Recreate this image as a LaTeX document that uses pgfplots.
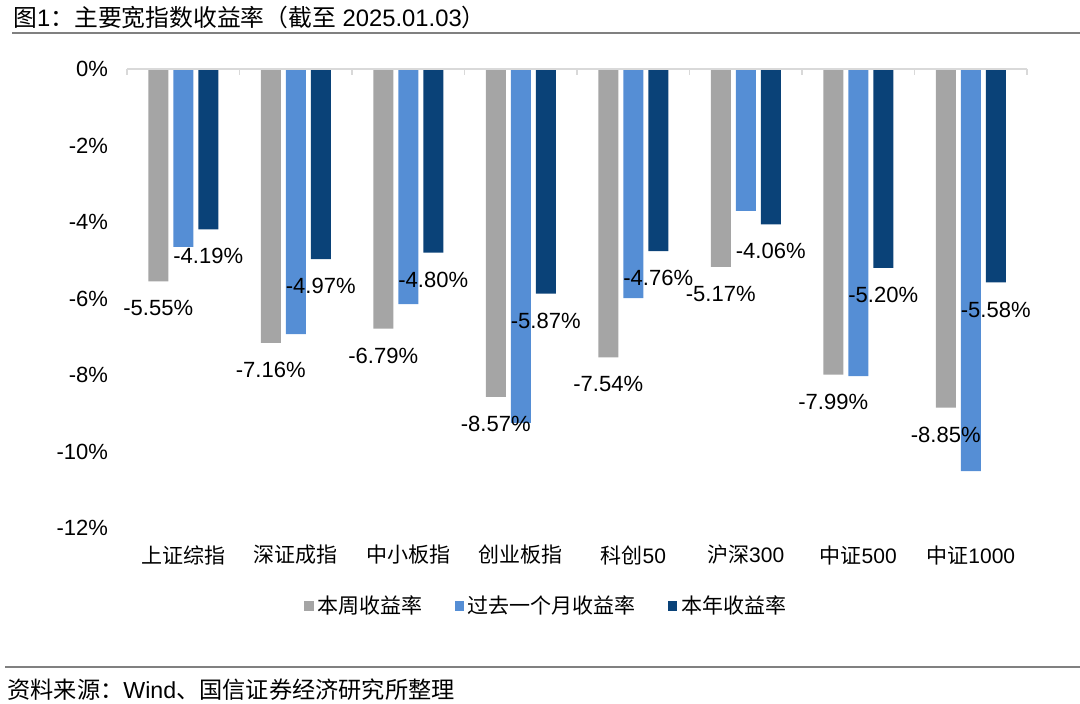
\documentclass[border=0pt]{standalone}
\usepackage{fontspec}
\setmainfont{Liberation Sans}
\newfontfamily\cjk{Noto Sans CJK SC}
\usepackage{pgfplots}
\pgfplotsset{compat=1.18}

\definecolor{barGray}{RGB}{165,165,165}
\definecolor{barLight}{RGB}{85,142,213}
\definecolor{barDark}{RGB}{10,66,120}
\definecolor{axisGray}{RGB}{217,217,217}
\definecolor{ruleGray}{RGB}{128,128,128}

\begin{document}
\begin{tikzpicture}
\path[use as bounding box] (0,0) rectangle (540pt,-351.5pt);

% title and rules
\node[anchor=west, inner sep=0pt, font=\fontsize{11.9}{14}\selectfont] at (6.5pt,-8.8pt)
  {{\cjk 图}1{\cjk ：主要宽指数收益率（截至} 2025.01.03{\cjk ）}};
\draw[ruleGray, line width=0.75pt] (6pt,-16.5pt) -- (540pt,-16.5pt);
\draw[ruleGray, line width=0.75pt] (2.5pt,-333.5pt) -- (540pt,-333.5pt);
\node[anchor=west, inner sep=0pt, font=\fontsize{11.6}{14}\selectfont] at (3.5pt,-345pt)
  {{\cjk 资料来源：}Wind{\cjk 、国信证券经济研究所整理}};

\begin{axis}[
  at={(63.5pt,-34.5pt)}, anchor=north west,
  scale only axis, width=450pt, height=229.5pt,
  ybar=2.5pt, bar width=10pt,
  xmin=-0.5, xmax=7.5, ymin=-12, ymax=0,
  clip=false,
  xtick={0,...,7},
  xticklabels={{\cjk 上证综指},{\cjk 深证成指},{\cjk 中小板指},{\cjk 创业板指},{\cjk 科创}50,{\cjk 沪深}300,{\cjk 中证}500,{\cjk 中证}1000},
  xticklabel style={anchor=center, yshift=-13.5pt, font=\fontsize{10.5}{12}\selectfont},
  ytick={-12,-10,...,0},
  yticklabel={\pgfmathprintnumber{\tick}\%},
  yticklabel style={xshift=-6pt, font=\fontsize{11}{13}\selectfont},
  /pgf/number format/assume math mode=true,
  axis line style={draw=none},
  major tick length=0pt,
  every node near coord/.append style={anchor=center, yshift=-13.5pt, font=\fontsize{11}{13}\selectfont, text=black},
  legend style={at={(0.467,-0.17)}, anchor=center, draw=none, fill=none,
    legend columns=-1, font=\cjk\fontsize{10.5}{12}\selectfont,
    /tikz/every even column/.append style={column sep=14pt}},
  legend image code/.code={\fill[#1] (0pt,-2.3pt) rectangle (4.6pt,2.3pt);},
]
\addplot[fill=barGray, draw=none,
  nodes near coords={\pgfmathprintnumber[fixed,fixed zerofill,precision=2]{\pgfplotspointmeta}\%}]
  coordinates {(0,-5.55) (1,-7.16) (2,-6.79) (3,-8.57) (4,-7.54) (5,-5.17) (6,-7.99) (7,-8.85)};
\addplot[fill=barLight, draw=none]
  coordinates {(0,-4.65) (1,-6.93) (2,-6.15) (3,-9.25) (4,-5.99) (5,-3.71) (6,-8.03) (7,-10.51)};
\addplot[fill=barDark, draw=none,
  nodes near coords={\pgfmathprintnumber[fixed,fixed zerofill,precision=2]{\pgfplotspointmeta}\%}]
  coordinates {(0,-4.19) (1,-4.97) (2,-4.80) (3,-5.87) (4,-4.76) (5,-4.06) (6,-5.20) (7,-5.58)};
\legend{本周收益率, 过去一个月收益率, 本年收益率}

\draw[axisGray, line width=0.75pt] (axis cs:-0.5,0) -- (axis cs:7.5,0);
\pgfplotsinvokeforeach{-0.5,0.5,1.5,2.5,3.5,4.5,5.5,6.5,7.5}{
  \draw[axisGray, line width=0.75pt] (axis cs:#1,0) -- ++(0pt,-3pt);
}
\end{axis}
\end{tikzpicture}
\end{document}
